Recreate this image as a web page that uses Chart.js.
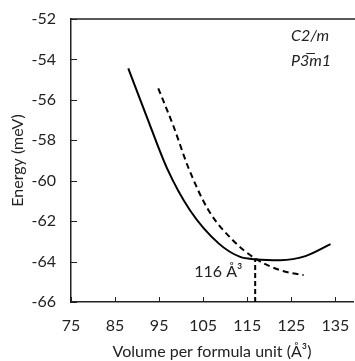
<!DOCTYPE html>
<html>
<head>
<meta charset="utf-8">
<script src="https://cdn.jsdelivr.net/npm/chart.js@4"></script>
<style>
  html, body { margin: 0; padding: 0; background: #fff; }
  #wrap { width: 355px; height: 361px; }
</style>
</head>
<body>
<div id="wrap"><canvas id="energyChart" width="355" height="361"></canvas></div>
<script>
// values
const c2mVolume = [88.0, 92.2, 96.8, 102.0, 108.5, 113.4, 116.8, 122.5, 128.2, 133.9];
const c2mEnergy = [-54.44, -56.84, -59.39, -61.46, -63.10, -63.77, -63.88, -63.93, -63.73, -63.14];
const p3mVolume = [94.8, 98.3, 101.7, 106.2, 111.9, 116.8, 122.5, 127.8];
const p3mEnergy = [-55.43, -57.33, -59.39, -61.46, -62.98, -63.85, -64.43, -64.67];
const markVolume = [116.8, 116.8];
const markEnergy = [-66, -63.86];
const xTicks = [75, 85, 95, 105, 115, 125, 135];
const yTicks = [-66, -64, -62, -60, -58, -56, -54, -52];
const legendNames = ['C2/m', 'P3\u0305m1'];
const markLabel = '116 \u00C5\u00B3';

const FONT = 'Lato, "Noto Sans", sans-serif';
const INK = '#222';

const toPoints = (xs, ys) => xs.map((x, i) => ({ x: x, y: ys[i] }));

// inward tick marks, top border, legend names and the minimum label
const extras = {
  id: 'extras',
  afterDraw(chart) {
    const ctx = chart.ctx;
    const xs = chart.scales.x, ys = chart.scales.y;
    const area = chart.chartArea;
    ctx.save();
    ctx.strokeStyle = INK;
    ctx.lineWidth = 1;
    ctx.beginPath();
    xTicks.forEach(v => {
      const px = Math.round(xs.getPixelForValue(v)) + 0.5;
      ctx.moveTo(px, area.bottom);
      ctx.lineTo(px, area.bottom - 5);
    });
    yTicks.forEach(v => {
      const py = Math.round(ys.getPixelForValue(v)) + 0.5;
      ctx.moveTo(area.left, py);
      ctx.lineTo(area.left + 6, py);
    });
    ctx.stroke();

    ctx.lineWidth = 1.5;
    ctx.beginPath();
    ctx.moveTo(area.left, area.top);
    ctx.lineTo(chart.width, area.top);
    ctx.stroke();

    ctx.fillStyle = INK;
    ctx.font = 'italic 16px ' + FONT;
    ctx.textAlign = 'left';
    ctx.textBaseline = 'middle';
    ctx.fillText(legendNames[0], 291, 36);
    ctx.fillText(legendNames[1], 291, 61);

    ctx.font = '16px ' + FONT;
    ctx.textAlign = 'right';
    ctx.fillText(markLabel, xs.getPixelForValue(113.9), ys.getPixelForValue(-64.5));
    ctx.restore();
  }
};

new Chart(document.getElementById('energyChart'), {
  type: 'scatter',
  data: {
    datasets: [{
      label: legendNames[0],
      data: toPoints(c2mVolume, c2mEnergy),
      showLine: true,
      borderColor: '#000',
      borderWidth: 2,
      pointRadius: 0,
      cubicInterpolationMode: 'monotone'
    }, {
      label: legendNames[1],
      data: toPoints(p3mVolume, p3mEnergy),
      showLine: true,
      borderColor: '#000',
      borderWidth: 2,
      borderDash: [6, 4],
      pointRadius: 0,
      cubicInterpolationMode: 'monotone'
    }, {
      label: 'min',
      data: toPoints(markVolume, markEnergy),
      showLine: true,
      borderColor: '#000',
      borderWidth: 2,
      borderDash: [5, 3],
      pointRadius: 0
    }]
  },
  options: {
    responsive: false,
    animation: false,
    layout: { padding: { top: 19, right: 2, left: 0, bottom: 0 } },
    plugins: { legend: { display: false }, tooltip: { enabled: false } },
    scales: {
      x: {
        type: 'linear',
        min: 75,
        max: 139,
        afterBuildTicks: s => { s.ticks = xTicks.map(v => ({ value: v })); },
        afterFit: s => { s.height = 59; s.paddingLeft = 0; s.paddingRight = 0; },
        grid: { display: false, drawTicks: false },
        border: { display: true, color: INK, width: 1.5 },
        ticks: { color: INK, font: { family: FONT, size: 16 }, padding: 14, maxRotation: 0 },
        title: { display: true, text: 'Volume per formula unit (\u00C5\u00B3)', color: INK, font: { family: FONT, size: 16 }, padding: { top: 3, bottom: 0 } }
      },
      y: {
        min: -66,
        max: -52,
        afterBuildTicks: s => { s.ticks = yTicks.map(v => ({ value: v })); },
        afterFit: s => { s.width = 71; s.paddingTop = 0; s.paddingBottom = 0; },
        grid: { display: false, drawTicks: false },
        border: { display: true, color: INK, width: 1.5 },
        ticks: { color: INK, font: { family: FONT, size: 16 }, padding: 15 },
        title: { display: true, text: 'Energy (meV)', color: INK, font: { family: FONT, size: 16 }, padding: { top: 8, bottom: 4 } }
      }
    }
  },
  plugins: [extras]
});
</script>
</body>
</html>
